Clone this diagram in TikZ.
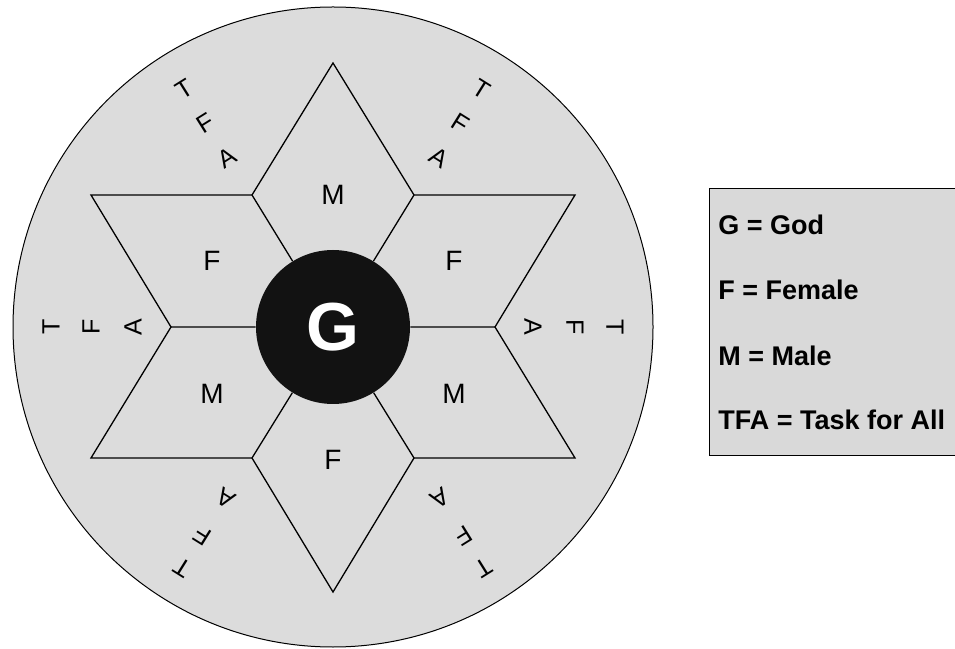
\documentclass[tikz,border=0pt]{standalone}
\usepackage{fontspec}
\setmainfont{Liberation Sans}
\usetikzlibrary{calc}
\definecolor{disc}{RGB}{220,220,220}
\definecolor{keybg}{RGB}{217,217,217}

\begin{document}
\begin{tikzpicture}[x=1pt, y=1pt, semithick]
\tikzstyle{part}=[font=\fontsize{28}{32}\selectfont, inner sep=0pt]
\tikzstyle{tfa}=[font=\fontsize{25}{29}\selectfont, inner sep=0pt]
\tikzstyle{key}=[anchor=west, inner sep=0pt, font=\bfseries\fontsize{27}{31}\selectfont]
\useasboundingbox (0,0) rectangle (955,648);
\draw[fill=disc, line width=1pt] (333,321) circle (320pt);
\coordinate (t)  at (333,585);
\coordinate (ur) at (575,453);
\coordinate (lr) at (575,190);
\coordinate (b)  at (333,56);
\coordinate (ll) at (91,190);
\coordinate (ul) at (91,453);
\coordinate (h1) at (414,453);
\coordinate (h2) at (495,321);
\coordinate (h3) at (414,190);
\coordinate (h4) at (252,190);
\coordinate (h5) at (171,321);
\coordinate (h6) at (252,453);
\draw[fill=disc, line width=1.3pt] (t) -- (h1) -- (ur) -- (h2) -- (lr) -- (h3) -- (b)
  -- (h4) -- (ll) -- (h5) -- (ul) -- (h6) -- cycle;
\node[circle, fill=black!93, minimum size=154pt, inner sep=0pt, text=white,
  font=\bfseries\fontsize{68}{72}\selectfont] (G) at (333,321) {G};
\draw[line width=1.3pt] (h1) -- (G) (h2) -- (G) (h3) -- (G)
  (h4) -- (G) (h5) -- (G) (h6) -- (G);
\node[part] (M1) at (333,453) {M};
\node[part] (F1) at (212,387) {F};
\node[part] (F2) at (454,387) {F};
\node[part] (M2) at (212,254) {M};
\node[part] (M3) at (454,254) {M};
\node[part] (F3) at (333,188) {F};
\node[tfa, rotate=-90] (T1) at ($(G)+(0:282)$) {T};
\node[tfa, rotate=-90] (F4) at ($(G)+(0:242)$) {F};
\node[tfa, rotate=-90] (A1) at ($(G)+(0:200)$) {A};
\node[tfa, rotate=-32] (T2) at ($(G)+(58:280)$) {T};
\node[tfa, rotate=-32] (F5) at ($(G)+(58:240)$) {F};
\node[tfa, rotate=-32] (A2) at ($(G)+(58:200)$) {A};
\node[tfa, rotate=32]  (T3) at ($(G)+(122:280)$) {T};
\node[tfa, rotate=32]  (F6) at ($(G)+(122:240)$) {F};
\node[tfa, rotate=32]  (A3) at ($(G)+(122:200)$) {A};
\node[tfa, rotate=90]  (T4) at ($(G)+(180:282)$) {T};
\node[tfa, rotate=90]  (F7) at ($(G)+(180:242)$) {F};
\node[tfa, rotate=90]  (A4) at ($(G)+(180:200)$) {A};
\node[tfa, rotate=148] (T5) at ($(G)+(238:284)$) {T};
\node[tfa, rotate=148] (F8) at ($(G)+(238:246)$) {F};
\node[tfa, rotate=148] (A5) at ($(G)+(238:202)$) {A};
\node[tfa, rotate=212] (T6) at ($(G)+(302:284)$) {T};
\node[tfa, rotate=212] (F9) at ($(G)+(302:246)$) {F};
\node[tfa, rotate=212] (A6) at ($(G)+(302:202)$) {A};
\fill[keybg] (709,192) rectangle (955,459);
\draw[line width=1pt] (955,459) -- (709,459) -- (709,192) -- (955,192);
\node[key] (kG)   at (718,423) {G = God};
\node[key] (kF)   at (718,358) {F = Female};
\node[key] (kM)   at (718,292) {M = Male};
\node[key] (kTFA) at (718,228) {TFA = Task for All};
\end{tikzpicture}
\end{document}
